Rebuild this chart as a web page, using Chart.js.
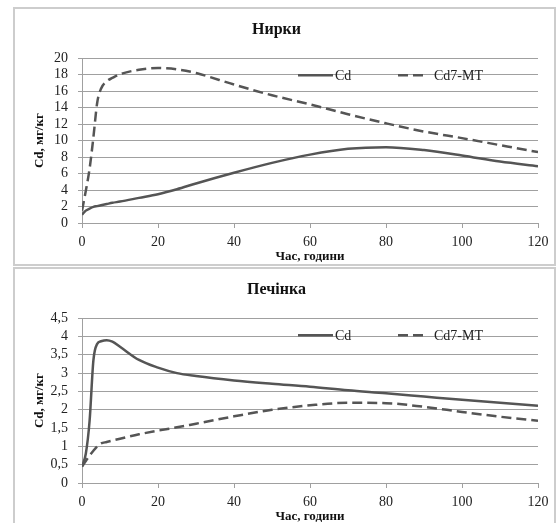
<!DOCTYPE html>
<html>
<head>
<meta charset="utf-8">
<script src="https://cdn.jsdelivr.net/npm/chart.js@4.4.1/dist/chart.umd.min.js"></script>
<style>
  body { margin: 0; background: #fff; }
  .panel { position: absolute; left: 13px; width: 539px; height: 255px; border: 2px solid #cdcdcd; }
  #p1 { top: 7px; }
  #p2 { top: 267px; }
  canvas { display: block; }
</style>
</head>
<body>
<div class="panel" id="p1"><canvas id="kidney" width="539" height="255"></canvas></div>
<div class="panel" id="p2"><canvas id="liver" width="539" height="255"></canvas></div>
<script>
// hours after injection (x positions of the read-off points)
const hours = [0, 1, 2, 3, 4, 5, 6.5, 8, 10, 15, 20, 25, 30, 40, 50, 60, 70, 80, 90, 100, 110, 120];
const seriesNames = ['Cd', 'Cd7-MT'];

// Нирки
const kidneyCd = [1.0, 1.5, 1.75, 1.95, 2.05, 2.15, 2.3, 2.45, 2.6, 3.05, 3.5, 4.1, 4.8, 6.1, 7.3, 8.3, 9.0, 9.2, 8.85, 8.2, 7.45, 6.9];
const kidneyMT = [1.5, 3.9, 6.6, 10.4, 14.6, 16.3, 17.2, 17.6, 18.05, 18.6, 18.8, 18.65, 18.2, 16.8, 15.5, 14.4, 13.2, 12.1, 11.1, 10.3, 9.45, 8.6];

// Печінка
const liverCd = [0.45, 0.8, 1.7, 3.35, 3.8, 3.87, 3.9, 3.86, 3.72, 3.36, 3.15, 3.0, 2.92, 2.8, 2.71, 2.63, 2.53, 2.45, 2.36, 2.27, 2.19, 2.11];
const liverMT = [0.45, 0.6, 0.75, 0.88, 1.0, 1.08, 1.12, 1.16, 1.21, 1.33, 1.43, 1.52, 1.62, 1.82, 2.0, 2.12, 2.19, 2.18, 2.08, 1.94, 1.81, 1.7];

const xMax = 120, xStep = 20;
const kidneyYMax = 20, kidneyYStep = 2;
const liverYMax = 4.5, liverYStep = 0.5;

const serif = 'Liberation Serif';
const lineColor = '#555';
const gridColor = '#a0a0a0';

// legend drawn inside the plot, like the Excel original
const insideLegend = {
  id: 'insideLegend',
  afterDatasetsDraw(chart, args, opts) {
    const {ctx, chartArea} = chart;
    const y = chartArea.top + opts.offsetY;
    ctx.save();
    chart.data.datasets.forEach((ds, i) => {
      const item = opts.items[i];
      const x0 = chartArea.left + item.x;
      ctx.strokeStyle = ds.borderColor;
      ctx.lineWidth = ds.borderWidth;
      ctx.setLineDash(ds.borderDash || []);
      ctx.beginPath();
      ctx.moveTo(x0, y);
      ctx.lineTo(x0 + item.len, y);
      ctx.stroke();
      ctx.setLineDash([]);
      ctx.fillStyle = '#222';
      ctx.font = '14px "' + serif + '"';
      ctx.textBaseline = 'middle';
      ctx.fillText(ds.label, x0 + item.len + item.gap, y + 1);
    });
    ctx.restore();
  }
};

function toPoints(values) {
  return values.map((v, i) => ({x: hours[i], y: v}));
}

function comma(v) {
  return String(v).replace('.', ',');
}

function buildChart(id, title, cdValues, mtValues, yMax, yStep) {
  return new Chart(document.getElementById(id), {
    type: 'line',
    data: {
      datasets: [
        {
          label: seriesNames[0],
          data: toPoints(cdValues),
          borderColor: lineColor,
          borderWidth: 2.5,
          pointRadius: 0,
          cubicInterpolationMode: 'monotone',
          fill: false
        },
        {
          label: seriesNames[1],
          data: toPoints(mtValues),
          borderColor: lineColor,
          borderWidth: 2.5,
          borderDash: [10, 5],
          pointRadius: 0,
          cubicInterpolationMode: 'monotone',
          fill: false
        }
      ]
    },
    options: {
      responsive: false,
      animation: false,
      events: [],
      layout: {
        padding: { left: 0, right: 16, top: 0, bottom: 0 }
      },
      scales: {
        x: {
          type: 'linear',
          min: 0,
          max: xMax,
          afterFit: (scale) => { scale.height = 41; scale.paddingRight = 0; },
          grid: {
            drawOnChartArea: false,
            tickLength: 5,
            color: gridColor
          },
          border: { color: gridColor },
          ticks: {
            stepSize: xStep,
            autoSkip: false,
            padding: 6,
            color: '#222',
            font: { family: serif, size: 14 }
          },
          title: {
            display: true,
            text: 'Час, години',
            color: '#111',
            padding: { top: 0, bottom: 0 },
            font: { family: serif, size: 13, weight: 'bold' }
          }
        },
        y: {
          min: 0,
          max: yMax,
          afterFit: (scale) => { scale.width = 67; },
          grid: {
            tickLength: 4,
            color: gridColor
          },
          border: { color: gridColor },
          ticks: {
            stepSize: yStep,
            autoSkip: false,
            padding: 10,
            color: '#222',
            font: { family: serif, size: 14 },
            callback: (v) => comma(v)
          },
          title: {
            display: true,
            text: 'Cd, мг/кг',
            color: '#111',
            padding: { top: 17, bottom: 0 },
            font: { family: serif, size: 13, weight: 'bold' }
          }
        }
      },
      plugins: {
        legend: { display: false },
        tooltip: { enabled: false },
        title: {
          display: true,
          text: title,
          color: '#111',
          padding: { top: 11, bottom: 19 },
          font: { family: serif, size: 16, weight: 'bold' }
        },
        insideLegend: {
          offsetY: 17,
          items: [
            { x: 216, len: 35, gap: 2 },
            { x: 316, len: 25, gap: 11 }
          ]
        }
      }
    },
    plugins: [insideLegend]
  });
}

buildChart('kidney', 'Нирки', kidneyCd, kidneyMT, kidneyYMax, kidneyYStep);
buildChart('liver', 'Печінка', liverCd, liverMT, liverYMax, liverYStep);
</script>
</body>
</html>
